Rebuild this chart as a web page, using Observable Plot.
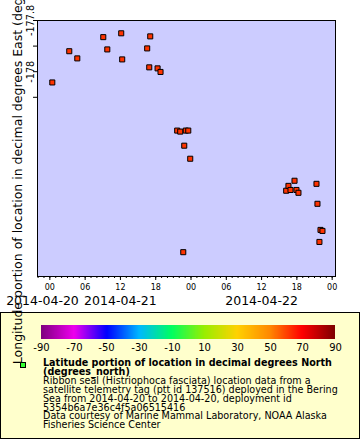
<!DOCTYPE html>
<html><head><meta charset="utf-8">
<script src="https://cdn.jsdelivr.net/npm/d3@7"></script>
<script src="https://cdn.jsdelivr.net/npm/@observablehq/plot@0.6"></script>
<style>
html,body{margin:0;padding:0;background:#fff;}
body{width:360px;height:440px;overflow:hidden;position:relative;font-family:"DejaVu Sans";}
#chart{position:absolute;left:0;top:0;width:360px;height:312px;z-index:2;}
#chart svg{overflow:visible;display:block;}
#legend{position:absolute;left:0;top:312px;width:360px;height:127px;box-sizing:border-box;border:1px solid #000;background:#ffffcc;z-index:1;}
#ramp{position:absolute;left:0;top:12px;}
#ramp svg{display:block;overflow:visible;background:transparent;}
#ramp .tick line{display:none;}
#ramp text{font-family:"DejaVu Sans";font-size:10px;fill:#000;}
#marker{position:absolute;left:19px;top:49px;width:4px;height:4px;border:1px solid #000;background:#33ff33;}
#ltext{position:absolute;left:42px;top:46px;font-size:9.6px;line-height:8.9px;white-space:nowrap;color:#000;}
#ltext .b{font-weight:bold;}
</style>
</head><body>
<div id="chart"></div>
<div id="legend"><div id="ramp"></div><div id="marker"></div><div id="ltext"></div></div>
<script>
// observation times (UTC) and longitudes (degrees east)
const times = [
  "2014-04-21T00:25Z","2014-04-21T03:18Z","2014-04-21T04:40Z","2014-04-21T09:05Z",
  "2014-04-21T09:46Z","2014-04-21T12:08Z","2014-04-21T12:18Z","2014-04-21T16:33Z",
  "2014-04-21T16:54Z","2014-04-21T17:04Z","2014-04-21T18:19Z","2014-04-21T18:49Z",
  "2014-04-21T21:39Z","2014-04-21T22:10Z","2014-04-21T22:41Z","2014-04-21T22:51Z",
  "2014-04-21T23:07Z","2014-04-21T23:32Z","2014-04-21T23:52Z","2014-04-22T16:11Z",
  "2014-04-22T16:34Z","2014-04-22T16:55Z","2014-04-22T17:36Z","2014-04-22T17:56Z",
  "2014-04-22T18:16Z","2014-04-22T21:20Z","2014-04-22T21:30Z","2014-04-22T21:50Z",
  "2014-04-22T22:01Z","2014-04-22T22:21Z"
];
const lons = [
  -178.042,-177.920,-177.948,-177.865,
  -177.913,-177.850,-177.952,-177.909,
  -177.983,-177.862,-177.987,-178.001,
  -178.230,-178.234,-178.705,-178.289,
  -178.230,-178.230,-178.340,-178.465,
  -178.446,-178.462,-178.426,-178.462,
  -178.473,-178.438,-178.516,-178.665,
  -178.618,-178.622
];
// axes
const xDomain = ["2014-04-20T21:54Z","2014-04-23T00:34Z"];
const xTickTimes = ["2014-04-21T00:00Z","2014-04-21T06:00Z","2014-04-21T12:00Z","2014-04-21T18:00Z",
  "2014-04-22T00:00Z","2014-04-22T06:00Z","2014-04-22T12:00Z","2014-04-22T18:00Z","2014-04-23T00:00Z"];
const xTickLabels = ["00","06","12","18","00","06","12","18","00"];
const dateLabels = ["2014-04-20","2014-04-21","2014-04-22"];
const dateLabelTimes = ["2014-04-20T12:00Z","2014-04-21T12:00Z","2014-04-22T12:00Z"];
const yDomain = [-178.8,-177.8];
const yMajorTicks = [-177.8,-178];
const yMajorLabels = ["-177.8","-178"];
const yMinorTicks = [-177.9,-178.1];
const yTitle = "Longitude portion of location in decimal degrees East (degrees_east)";
// colour bar
const colorStops = [-90,-70,-50,-30,-10,10,30,50,70,90];
const colorRange = ["#800080","#ee00ee","#0000ff","#00b8ff","#00ff60","#99ee00","#ffd200","#ff8a00","#ff0000","#800000"];
const colorTickLabels = ["-90","-70","-50","-30","-10","10","30","50","70","90"];
const legendLines = [
  ["b","Latitude portion of location in decimal degrees North"],
  ["b","(degrees_north)"],
  ["","Ribbon seal (Histriophoca fasciata) location data from a"],
  ["","satellite telemetry tag (ptt id 137516) deployed in the Bering"],
  ["","Sea from 2014-04-20 to 2014-04-20, deployment id"],
  ["","5354b6a7e36c4f5a06515416"],
  ["","Data courtesy of Marine Mammal Laboratory, NOAA Alaska"],
  ["","Fisheries Science Center"]
];

const data = times.map((t, i) => ({time: new Date(t), lon: lons[i]}));
const x0 = new Date(xDomain[0]), x1 = new Date(xDomain[1]);
const xLabelMap = new Map(xTickTimes.map((t, i) => [+new Date(t), xTickLabels[i]]));
const minorTimes = d3.utcHour.range(d3.utcHour.ceil(x0), new Date(+x1 + 1));
const dates = dateLabels.map((s, i) => ({text: s, time: new Date(dateLabelTimes[i])}));
const inDates = dates.filter(d => d.time >= x0);
const outDates = dates.filter(d => d.time < x0);

const chart = Plot.plot({
  width: 360, height: 312,
  marginLeft: 37, marginRight: 25, marginTop: 20, marginBottom: 36,
  style: {fontFamily: "DejaVu Sans", fontSize: "10px", background: "transparent", overflow: "visible"},
  x: {type: "utc", domain: [x0, x1], axis: null},
  y: {domain: yDomain, axis: null},
  marks: [
    Plot.frame({fill: "#ccccff", stroke: "none"}),
    Plot.dot(data, {x: "time", y: "lon", symbol: "square", r: 2.85, fill: "#ff3300", stroke: "#000", strokeWidth: 1}),
    Plot.frame({stroke: "#000"}),
    Plot.axisX({ticks: minorTimes, tickSize: 2, tickFormat: () => "", label: null}),
    Plot.axisX({ticks: xTickTimes.map(t => new Date(t)), tickSize: 4, tickPadding: 3.6, fontSize: 8,
      tickFormat: d => xLabelMap.get(+d), label: null}),
    Plot.text(inDates, {x: "time", text: "text", frameAnchor: "bottom", dy: 20.1, lineAnchor: "top", fontSize: 12.5}),
    Plot.text(outDates, {x: () => x0, text: "text", frameAnchor: "bottom", dy: 20.1, dx: 5, lineAnchor: "top", fontSize: 12.5}),
    Plot.axisY({ticks: yMinorTicks, tickSize: 4, tickFormat: () => "", label: null}),
    Plot.axisY({ticks: yMajorTicks, tickSize: 4, tickFormat: () => "", label: null}),
    Plot.text(yMajorTicks, {y: d => d, text: (d, i) => yMajorLabels[i], frameAnchor: "left", dx: -3.2,
      rotate: -90, textAnchor: "middle", lineAnchor: "bottom", fontSize: 9.7}),
    Plot.text([yTitle], {text: d => d, frameAnchor: "left", dx: -15.9, rotate: -90,
      textAnchor: "middle", lineAnchor: "bottom", fontSize: 12.5})
  ]
});
document.getElementById("chart").appendChild(chart);

const ramp = Plot.legend({
  legend: "ramp",
  color: {type: "linear", domain: colorStops, range: colorRange, interpolate: "rgb"},
  width: 358, height: 30, marginTop: 0, marginBottom: 16, marginLeft: 40, marginRight: 24,
  ticks: colorStops, tickSize: 2,
  tickFormat: d => colorTickLabels[colorStops.indexOf(d)],
  label: null
});
document.getElementById("ramp").appendChild(ramp);

const lt = document.getElementById("ltext");
legendLines.forEach(([cls, s]) => {
  const div = document.createElement("div");
  if (cls) div.className = cls;
  div.textContent = s;
  lt.appendChild(div);
});
</script>
</body></html>
